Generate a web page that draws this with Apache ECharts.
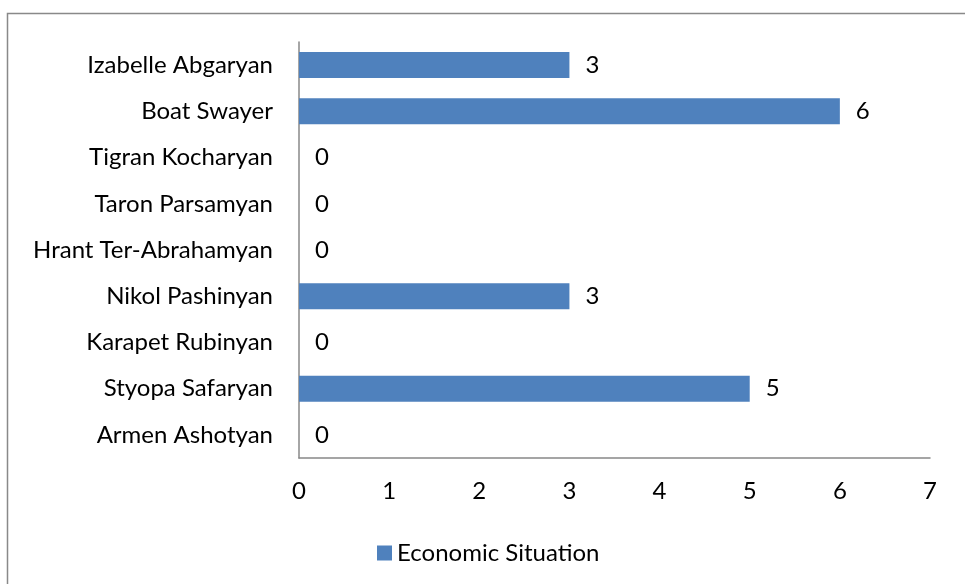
<!DOCTYPE html>
<html>
<head>
<meta charset="utf-8">
<script src="https://cdn.jsdelivr.net/npm/echarts@6/dist/echarts.min.js"></script>
<style>
html,body{margin:0;padding:0;background:#fff;}
#chart{width:965px;height:584px;}
</style>
</head>
<body>
<div id="chart"></div>
<script>
// Categories listed bottom to top (as on the category axis)
var categories = ["Armen Ashotyan","Styopa Safaryan","Karapet Rubinyan","Nikol Pashinyan","Hrant Ter-Abrahamyan","Taron Parsamyan","Tigran Kocharyan","Boat Swayer","Izabelle Abgaryan"];
var values = [0,5,0,3,0,0,0,6,3];
var seriesName = "Economic Situation";
var xMin = 0, xMax = 7, xInterval = 1;

var FONT = "Lato";
var FS = 24;
var chart = echarts.init(document.getElementById('chart'), null, {renderer:'canvas'});
chart.setOption({
  animation:false,
  backgroundColor:'#ffffff',
  graphic:[{
    type:'rect', shape:{x:7.5,y:13.5,width:1200,height:1200},
    style:{fill:'none',stroke:'#898989',lineWidth:1.5}, silent:true, z:-1
  }],
  grid:{left:299,right:35,top:42,bottom:126,containLabel:false},
  legend:{
    left:372, top:536,
    itemWidth:15,itemHeight:15,
    icon:'rect',
    textStyle:{fontFamily:FONT,fontSize:FS,color:'#000'},
    data:[seriesName]
  },
  xAxis:{
    type:'value', min:xMin, max:xMax, interval:xInterval,
    axisLine:{show:true,lineStyle:{color:'#888888',width:1.5}},
    axisTick:{show:false},
    splitLine:{show:false},
    axisLabel:{margin:21,fontFamily:FONT,fontSize:FS,color:'#000'}
  },
  yAxis:{
    type:'category', data:categories,
    axisLine:{show:true,lineStyle:{color:'#888888',width:1.5}},
    axisTick:{show:false},
    axisLabel:{margin:26,fontFamily:FONT,fontSize:FS,color:'#000'}
  },
  series:[{
    name:seriesName, type:'bar', data:values, barWidth:26,
    itemStyle:{color:'#4F81BD'},
    label:{show:true,position:'right',distance:16,fontFamily:FONT,fontSize:FS,color:'#000'}
  }]
});
</script>
</body>
</html>
